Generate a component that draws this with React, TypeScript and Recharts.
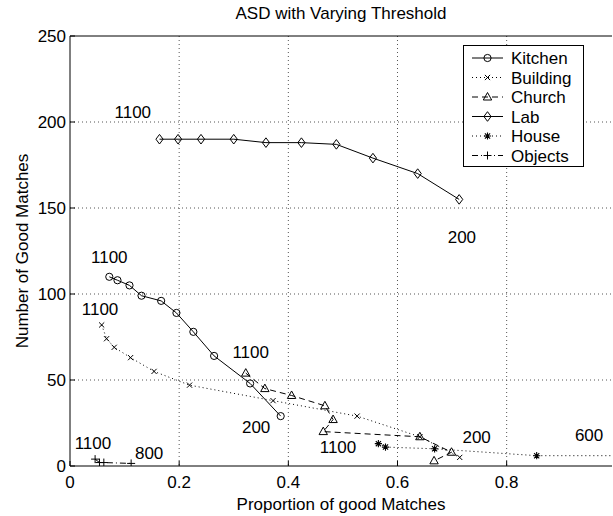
import React from 'react';
import {
  ComposedChart,
  Line,
  Scatter,
  XAxis,
  YAxis,
  CartesianGrid,
  ReferenceLine,
  Legend,
  Customized,
} from 'recharts';

const FONT = '"Liberation Sans", Arial, Helvetica, sans-serif';

const xTicks = [0, 0.2, 0.4, 0.6, 0.8];
const yTicks = [0, 50, 100, 150, 200, 250];

const kitchen: [number, number][] = [
  [0.072, 110], [0.087, 108], [0.109, 105], [0.131, 99], [0.167, 96],
  [0.195, 89], [0.226, 78], [0.264, 64], [0.33, 48], [0.386, 29],
];
const building: [number, number][] = [
  [0.058, 82], [0.067, 74], [0.081, 69], [0.111, 63], [0.154, 55],
  [0.219, 47], [0.372, 38], [0.526, 29], [0.641, 17], [0.714, 5],
];
const church: [number, number][] = [
  [0.322, 54], [0.357, 45], [0.406, 41], [0.467, 35], [0.482, 27],
  [0.464, 20], [0.641, 17], [0.699, 8], [0.667, 3],
];
const lab: [number, number][] = [
  [0.164, 190], [0.198, 190], [0.24, 190], [0.3, 190], [0.359, 188],
  [0.424, 188], [0.488, 187], [0.555, 179], [0.637, 170], [0.713, 155],
];
const house: [number, number][] = [
  [0.565, 13], [0.578, 11], [0.668, 10], [0.855, 6], [1.1, 6],
];
const objects: [number, number][] = [
  [0.046, 4], [0.054, 2], [0.062, 2], [0.112, 1.5],
];

const annotations = [
  { x: 0.115, y: 206, text: '1100' },
  { x: 0.718, y: 133, text: '200' },
  { x: 0.072, y: 121.5, text: '1100' },
  { x: 0.055, y: 91, text: '1100' },
  { x: 0.331, y: 66, text: '1100' },
  { x: 0.341, y: 22.5, text: '200' },
  { x: 0.491, y: 11, text: '1100' },
  { x: 0.745, y: 17, text: '200' },
  { x: 0.951, y: 18, text: '600' },
  { x: 0.042, y: 13.4, text: '1100' },
  { x: 0.145, y: 7.6, text: '800' },
];

type Kind = 'circle' | 'x' | 'triangle' | 'diamond' | 'star' | 'plus';

const toPoints = (arr: [number, number][]) => arr.map(([x, y]) => ({ x, y }));

const series: { name: string; data: [number, number][]; kind: Kind; dash: string }[] = [
  { name: 'Kitchen', data: kitchen, kind: 'circle', dash: '' },
  { name: 'Building', data: building, kind: 'x', dash: '1 3' },
  { name: 'Church', data: church, kind: 'triangle', dash: '6 4' },
  { name: 'Lab', data: lab, kind: 'diamond', dash: '' },
  { name: 'House', data: house, kind: 'star', dash: '1 3' },
  { name: 'Objects', data: objects, kind: 'plus', dash: '6 3 1 3' },
];

function Marker({ kind, cx, cy }: { kind: Kind; cx: number; cy: number }) {
  const s = { stroke: '#000', strokeWidth: 1, fill: 'none', strokeDasharray: 'none' };
  if (cx == null || cy == null || isNaN(cx) || isNaN(cy)) return null;
  switch (kind) {
    case 'circle':
      return <circle cx={cx} cy={cy} r={3.6} {...s} />;
    case 'x': {
      const d = 2.6;
      return <path d={`M${cx - d},${cy - d}L${cx + d},${cy + d}M${cx - d},${cy + d}L${cx + d},${cy - d}`} {...s} />;
    }
    case 'triangle':
      return <path d={`M${cx},${cy - 4.5}L${cx + 4.2},${cy + 3}L${cx - 4.2},${cy + 3}Z`} {...s} />;
    case 'diamond':
      return <path d={`M${cx},${cy - 4.8}L${cx + 3.6},${cy}L${cx},${cy + 4.8}L${cx - 3.6},${cy}Z`} {...s} />;
    case 'star': {
      const d = 3.6;
      const e = 2.6;
      return (
        <path
          d={`M${cx - d},${cy}L${cx + d},${cy}M${cx},${cy - d}L${cx},${cy + d}M${cx - e},${cy - e}L${cx + e},${cy + e}M${cx - e},${cy + e}L${cx + e},${cy - e}`}
          {...s}
          strokeWidth={1.1}
        />
      );
    }
    case 'plus': {
      const d = 4;
      return <path d={`M${cx - d},${cy}L${cx + d},${cy}M${cx},${cy - d}L${cx},${cy + d}`} {...s} />;
    }
  }
  return null;
}

const LegendBox = () => {
  const rowY = [13, 32.5, 52, 71.5, 91, 110.5];
  return (
    <svg width={121} height={122} style={{ display: 'block' }}>
      <rect x={0.5} y={0.5} width={120} height={121} fill="#fff" stroke="#000" strokeWidth={1} />
      {series.map((s, i) => (
        <g key={s.name}>
          <line
            x1={9}
            x2={40}
            y1={rowY[i]}
            y2={rowY[i]}
            stroke="#000"
            strokeWidth={1}
            strokeDasharray={s.dash || undefined}
          />
          <Marker kind={s.kind} cx={24.5} cy={rowY[i]} />
          <text x={48} y={rowY[i] + 6} fontFamily={FONT} fontSize={17} fill="#000">
            {s.name}
          </text>
        </g>
      ))}
    </svg>
  );
};

const XTick = (p: any) => (
  <g>
    <line x1={p.x} x2={p.x} y1={p.y} y2={p.y - 5} stroke="#000" />
    <text x={p.x} y={p.y + 22} textAnchor="middle" fontFamily={FONT} fontSize={17} fill="#000">
      {p.payload.value}
    </text>
  </g>
);

const YTick = (p: any) => (
  <g>
    <line x1={p.x} x2={p.x + 5} y1={p.y} y2={p.y} stroke="#000" />
    <text x={p.x - 4} y={p.y + 6} textAnchor="end" fontFamily={FONT} fontSize={17} fill="#000">
      {p.payload.value}
    </text>
  </g>
);

const Texts = () => (
  <g>
    <text x={341} y={19} textAnchor="middle" fontFamily={FONT} fontSize={17} fill="#000">
      ASD with Varying Threshold
    </text>
    <text x={341} y={510} textAnchor="middle" fontFamily={FONT} fontSize={17} fill="#000">
      Proportion of good Matches
    </text>
    <text
      x={0}
      y={0}
      transform="translate(28,251) rotate(-90)"
      textAnchor="middle"
      fontFamily={FONT}
      fontSize={17}
      fill="#000"
    >
      Number of Good Matches
    </text>
  </g>
);

export default function App() {
  return (
    <div style={{ position: 'absolute', left: 0, top: 0, background: '#fff' }}>
      <ComposedChart width={613} height={516} margin={{ top: 36, right: 1, bottom: 0, left: 0 }}>
        <CartesianGrid stroke="#555" strokeDasharray="1 3" horizontalValues={[50, 100, 150, 200]} verticalValues={[0.2, 0.4, 0.6, 0.8]} />
        <XAxis
          type="number"
          dataKey="x"
          domain={[0, 0.993]}
          ticks={xTicks}
          allowDataOverflow
          height={50}
          tickSize={0}
          tickMargin={0}
          axisLine={{ stroke: '#000' }}
          tickLine={false}
          tick={XTick}
          interval={0}
        />
        <YAxis
          type="number"
          dataKey="y"
          domain={[0, 250]}
          ticks={yTicks}
          allowDataOverflow
          width={70}
          tickSize={0}
          tickMargin={0}
          axisLine={{ stroke: '#000' }}
          tickLine={false}
          tick={YTick}
          interval={0}
        />
        <ReferenceLine y={250} stroke="#000" />
        {series.map((s) => (
          <Line
            key={s.name}
            name={s.name}
            data={toPoints(s.data)}
            dataKey="y"
            type="linear"
            stroke="#000"
            strokeWidth={1}
            strokeDasharray={s.dash || undefined}
            isAnimationActive={false}
            dot={(p: any) => <Marker key={`${s.name}-${p.index}`} kind={s.kind} cx={p.cx} cy={p.cy} />}
            activeDot={false}
          />
        ))}
        <Scatter
          name="labels"
          data={annotations}
          dataKey="y"
          isAnimationActive={false}
          legendType="none"
          shape={(p: any) => (
            <text
              x={p.cx}
              y={p.cy + 6}
              textAnchor="middle"
              fontFamily={FONT}
              fontSize={17}
              fill="#000"
            >
              {p.payload.text}
            </text>
          )}
        />
        <Legend
          layout="vertical"
          align="center"
          verticalAlign="middle"
          content={() => <LegendBox />}
          wrapperStyle={{ left: 463, top: 45, width: 121, height: 122, margin: 0 }}
        />
        <Customized component={Texts} />
      </ComposedChart>
    </div>
  );
}
